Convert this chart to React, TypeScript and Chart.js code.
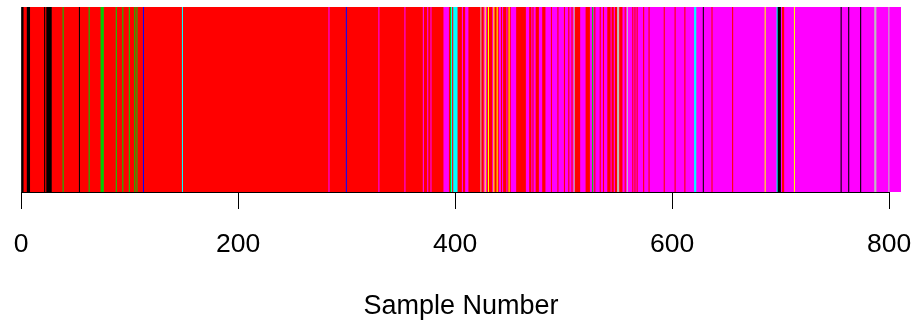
import React, { useEffect, useRef } from 'react';
import { Chart, registerables } from 'chart.js';

Chart.register(...registerables);

// Cluster palette (classic R palette)
const clusterCodes = ['K', 'R', 'G', 'B', 'C', 'M', 'Y', 'A'];
const clusterColors = ['#000000', '#FF0000', '#00CD00', '#0000FF', '#00FFFF', '#FF00FF', '#FFFF00', '#BEBEBE'];

// Run-length encoded cluster assignment of consecutive samples
const runCluster = [
  'K', 'R', 'K', 'R', 'K', 'R', 'K', 'R', 'G', 'R', 'K', 'R', 'G', 'R', 'G', 'R', 'G', 'R', 'G', 'R',
  'G', 'R', 'G', 'R', 'G', 'R', 'B', 'R', 'C', 'R', 'M', 'R', 'B', 'R', 'M', 'R', 'M', 'R', 'M', 'R',
  'M', 'R', 'M', 'R', 'M', 'R', 'G', 'C', 'R', 'C', 'R', 'M', 'R', 'M', 'R', 'A',
  'R', 'M', 'Y', 'M', 'R', 'Y', 'R', 'M', 'Y', 'R', 'Y', 'R', 'M', 'R', 'M', 'R', 'M', 'R', 'Y', 'R',
  'M', 'R', 'M', 'R', 'M', 'R', 'M', 'R', 'M', 'R', 'M', 'R', 'M', 'R', 'M', 'R', 'M', 'R', 'M', 'R',
  'M', 'A', 'R', 'M', 'R', 'M', 'G', 'M', 'R', 'M', 'R', 'M', 'R', 'M', 'R', 'M', 'R', 'M', 'R', 'A',
  'R', 'M', 'R', 'M', 'A', 'M', 'R', 'M', 'R', 'M', 'R', 'M', 'R', 'M', 'R', 'M', 'R', 'M', 'R', 'M',
  'R', 'M', 'C', 'M', 'K', 'M', 'R', 'M', 'R', 'M', 'Y', 'M', 'C', 'K', 'M', 'R', 'M', 'Y', 'M', 'K',
  'M', 'K', 'M', 'K', 'M', 'A', 'M', 'A', 'M',
];
const runLength = [
  2, 3, 3, 13, 1, 1, 5, 10, 1, 14, 1, 8, 1, 10, 3, 11, 1, 5, 1, 5,
  1, 4, 1, 1, 1, 5, 1, 35, 1, 134, 1, 15, 1, 29, 1, 23, 1, 16, 1, 3,
  1, 2, 1, 11, 5, 1, 1, 1, 1, 4, 4, 1, 2, 3, 11, 1,
  2, 1, 1, 1, 1, 1, 3, 1, 1, 2, 1, 1, 2, 1, 1, 3, 1, 1, 1, 1,
  5, 9, 3, 2, 1, 1, 2, 3, 3, 3, 5, 1, 5, 1, 5, 1, 3, 1, 2, 1,
  1, 1, 5, 5, 4, 2, 1, 1, 1, 4, 1, 2, 1, 3, 3, 1, 2, 1, 2, 2,
  3, 2, 1, 1, 1, 4, 1, 1, 1, 1, 1, 5, 1, 4, 1, 13, 1, 9, 1, 8,
  1, 8, 2, 6, 1, 7, 1, 18, 1, 29, 1, 10, 1, 3, 1, 2, 9, 1, 42, 1,
  6, 1, 10, 1, 12, 2, 11, 1, 11,
];

const sampleCount = 811;
const xTickValues = [0, 200, 400, 600, 800];
const xTitle = 'Sample Number';

const FONT = '"Liberation Sans", Arial, Helvetica, sans-serif';

export default function App() {
  const canvasRef = useRef<HTMLCanvasElement | null>(null);

  useEffect(() => {
    const canvas = canvasRef.current;
    if (!canvas) return;

    const datasets = runLength.map((len, i) => {
      const col = clusterColors[clusterCodes.indexOf(runCluster[i])];
      return {
        label: 'run' + i,
        data: [len],
        backgroundColor: col,
        borderWidth: 0,
        barPercentage: 1,
        categoryPercentage: 1,
        inflateAmount: 0.35,
      };
    });

    const axisLine = {
      id: 'axisLine',
      afterDraw(chart: any) {
        const xs = chart.scales.x;
        const ctx = chart.ctx;
        const y = Math.round(chart.chartArea.bottom) + 0.5;
        ctx.save();
        ctx.strokeStyle = '#000';
        ctx.lineWidth = 1;
        ctx.beginPath();
        ctx.moveTo(Math.round(xs.getPixelForValue(xTickValues[0])) + 0.5, y);
        ctx.lineTo(Math.round(xs.getPixelForValue(xTickValues[xTickValues.length - 1])) + 0.5, y);
        ctx.stroke();
        ctx.restore();
      },
    };

    const chart = new Chart(canvas, {
      type: 'bar',
      data: { labels: [''], datasets: datasets as any },
      options: {
        indexAxis: 'y',
        responsive: false,
        animation: false,
        devicePixelRatio: 1,
        layout: { padding: { left: 21, right: 16, top: 7, bottom: 0 } },
        plugins: { legend: { display: false }, tooltip: { enabled: false }, title: { display: false } },
        scales: {
          y: { display: false, stacked: true },
          x: {
            type: 'linear',
            stacked: true,
            min: 0,
            max: sampleCount,
            afterFit: (s: any) => {
              s.height = 134;
              s.paddingLeft = 0;
              s.paddingRight = 0;
            },
            afterBuildTicks: (s: any) => { s.ticks = xTickValues.map((v) => ({ value: v })); },
            ticks: {
              autoSkip: false,
              maxRotation: 0,
              includeBounds: false,
              color: '#000',
              padding: 20,
              font: { family: FONT, size: 26.5 },
              callback: (v: any) => String(v),
            },
            grid: {
              display: true,
              drawOnChartArea: false,
              drawTicks: true,
              tickLength: 17,
              color: '#000',
              lineWidth: 1,
            },
            border: { display: false },
            title: {
              display: true,
              text: xTitle,
              color: '#000',
              font: { family: FONT, size: 27 },
              padding: { top: 0, bottom: 3 },
            },
          },
        },
      },
      plugins: [axisLine],
    });

    return () => chart.destroy();
  }, []);

  return (
    <div style={{ position: 'absolute', left: 0, top: 0, width: 917, height: 326, background: '#fff' }}>
      <canvas ref={canvasRef} width={917} height={326} style={{ width: 917, height: 326, display: 'block' }} />
    </div>
  );
}
